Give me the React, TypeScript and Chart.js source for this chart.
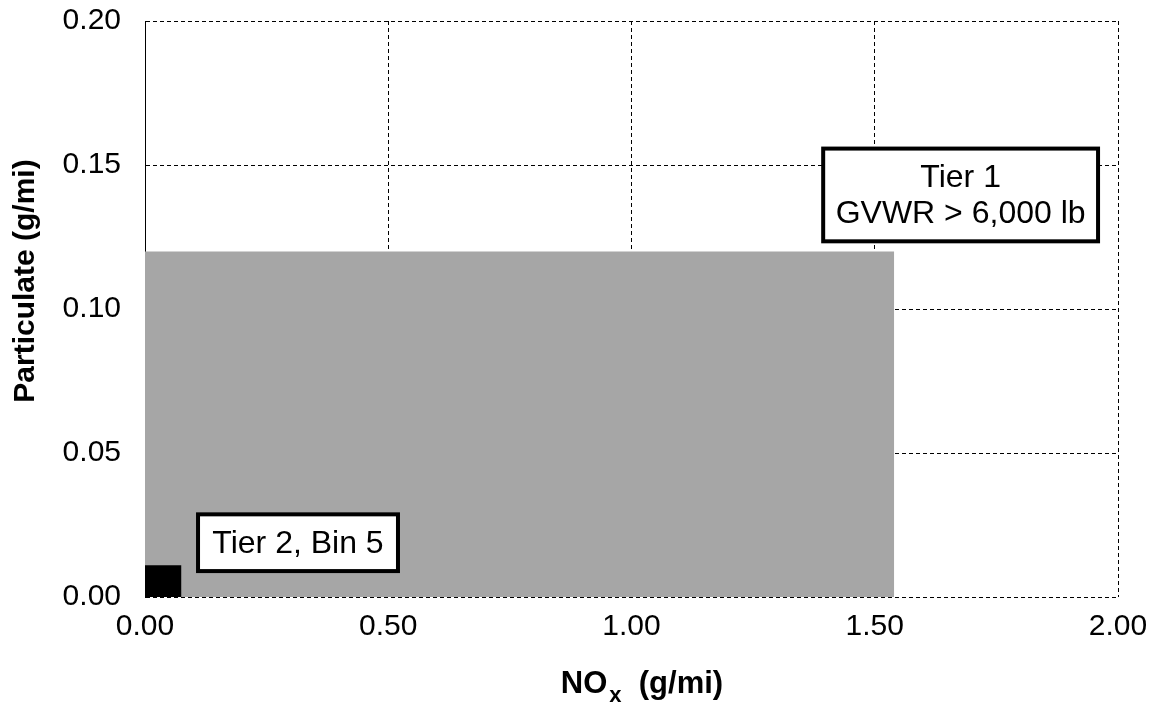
import React, { useEffect, useRef } from "react";
import { Chart, registerables } from "chart.js";

Chart.register(...registerables);

// Axis ranges / ticks
const xTicks = [0, 0.5, 1.0, 1.5, 2.0];
const yTicks = [0, 0.05, 0.1, 0.15, 0.2];

// Standard regions (NOx g/mi, PM g/mi)
const tier1NOx = [0, 1.54];
const tier1PM = [0.12, 0.12];
const bin5NOx = [0, 0.075];
const bin5PM = [0.011, 0.011];

// Label boxes in data coordinates
const labelTexts = [["Tier 2, Bin 5"], ["Tier 1", "GVWR > 6,000 lb"]];
const labelBoxX = [[0.109, 0.52], [1.394, 1.959]];
const labelBoxY = [[0.0287, 0.009], [0.1557, 0.1235]];

const FONT = "'Liberation Sans', Arial, Helvetica, sans-serif";

const overlayPlugin = {
  id: "overlay",
  afterDatasetsDraw(chart: any) {
    const { ctx, scales } = chart;
    const xs = scales.x;
    const ys = scales.y;
    ctx.save();
    // label boxes
    labelTexts.forEach((lines, i) => {
      const x1 = xs.getPixelForValue(labelBoxX[i][0]);
      const x2 = xs.getPixelForValue(labelBoxX[i][1]);
      const y1 = ys.getPixelForValue(labelBoxY[i][0]);
      const y2 = ys.getPixelForValue(labelBoxY[i][1]);
      ctx.fillStyle = "#ffffff";
      ctx.fillRect(x1, y1, x2 - x1, y2 - y1);
      ctx.lineWidth = 4;
      ctx.strokeStyle = "#000000";
      ctx.strokeRect(x1, y1, x2 - x1, y2 - y1);
      ctx.fillStyle = "#000000";
      ctx.font = `32px ${FONT}`;
      ctx.textAlign = "center";
      ctx.textBaseline = "middle";
      const cx = (x1 + x2) / 2;
      const cy = (y1 + y2) / 2;
      const lh = 36;
      lines.forEach((t, j) => {
        ctx.fillText(t, cx, cy + (j - (lines.length - 1) / 2) * lh + 1);
      });
    });
    // x axis title with subscript
    ctx.fillStyle = "#000000";
    ctx.textBaseline = "alphabetic";
    ctx.textAlign = "left";
    const big = `bold 31px ${FONT}`;
    const small = `bold 22px ${FONT}`;
    ctx.font = big;
    const wNO = ctx.measureText("NO").width;
    const wRest = ctx.measureText("  (g/mi)").width;
    ctx.font = small;
    const wX = ctx.measureText("x").width;
    const total = wNO + 2 + wX + wRest;
    let sx = 642 - total / 2;
    const base = 693;
    ctx.font = big;
    ctx.fillText("NO", sx, base);
    sx += wNO + 2;
    ctx.font = small;
    ctx.fillText("x", sx, base + 9);
    sx += wX;
    ctx.font = big;
    ctx.fillText("  (g/mi)", sx, base);
    // y axis title
    ctx.save();
    ctx.translate(34, 281);
    ctx.rotate(-Math.PI / 2);
    ctx.textAlign = "center";
    ctx.textBaseline = "alphabetic";
    ctx.font = `bold 30px ${FONT}`;
    ctx.fillText("Particulate (g/mi)", 0, 0);
    ctx.restore();
    ctx.restore();
  },
};

export default function App() {
  const ref = useRef<HTMLCanvasElement | null>(null);
  useEffect(() => {
    if (!ref.current) return;
    const chart = new Chart(ref.current, {
      type: "line",
      data: {
        datasets: [
          {
            label: "Tier 2, Bin 5",
            data: bin5NOx.map((x, i) => ({ x, y: bin5PM[i] })),
            backgroundColor: "#000000",
            borderWidth: 0,
            pointRadius: 0,
            fill: "origin",
            order: 0,
          },
          {
            label: "Tier 1",
            data: tier1NOx.map((x, i) => ({ x, y: tier1PM[i] })),
            backgroundColor: "#a6a6a6",
            borderWidth: 0,
            pointRadius: 0,
            fill: "origin",
            order: 1,
          },
        ],
      },
      options: {
        animation: false,
        responsive: true,
        maintainAspectRatio: false,
        layout: { padding: 0 },
        plugins: { legend: { display: false }, tooltip: { enabled: false } },
        scales: {
          x: {
            type: "linear",
            min: 0,
            max: 2,
            afterFit: (s: any) => {
              s.height = 107;
              s.paddingLeft = 0;
              s.paddingRight = 34;
              s.paddingTop = 0;
              s.paddingBottom = 0;
            },
            afterBuildTicks: (s: any) => {
              s.ticks = xTicks.map((v) => ({ value: v }));
            },
            ticks: {
              color: "#000",
              font: { family: FONT, size: 30 },
              padding: 12,
              maxRotation: 0,
              callback: (v: any) => Number(v).toFixed(2),
            },
            grid: {
              color: "#000",
              lineWidth: 1,
              drawTicks: false,
            },
            border: { display: false, dash: [4, 3] },
          },
          y: {
            type: "linear",
            min: 0,
            max: 0.2,
            afterFit: (s: any) => {
              s.width = 145;
              s.paddingTop = 21;
              s.paddingBottom = 0;
              s.paddingLeft = 0;
              s.paddingRight = 0;
            },
            afterBuildTicks: (s: any) => {
              s.ticks = yTicks.map((v) => ({ value: v }));
            },
            ticks: {
              color: "#000",
              font: { family: FONT, size: 30 },
              padding: 24,
              callback: (v: any) => Number(v).toFixed(2),
            },
            grid: {
              color: "#000",
              lineWidth: 1,
              drawTicks: false,
            },
            border: { display: true, color: "#000", width: 1, dash: [4, 3] },
          },
        },
      },
      plugins: [overlayPlugin],
    } as any);
    return () => chart.destroy();
  }, []);
  return (
    <div style={{ position: "fixed", left: 0, top: 0, width: 1152, height: 704, background: "#fff" }}>
      <canvas ref={ref} />
    </div>
  );
}
